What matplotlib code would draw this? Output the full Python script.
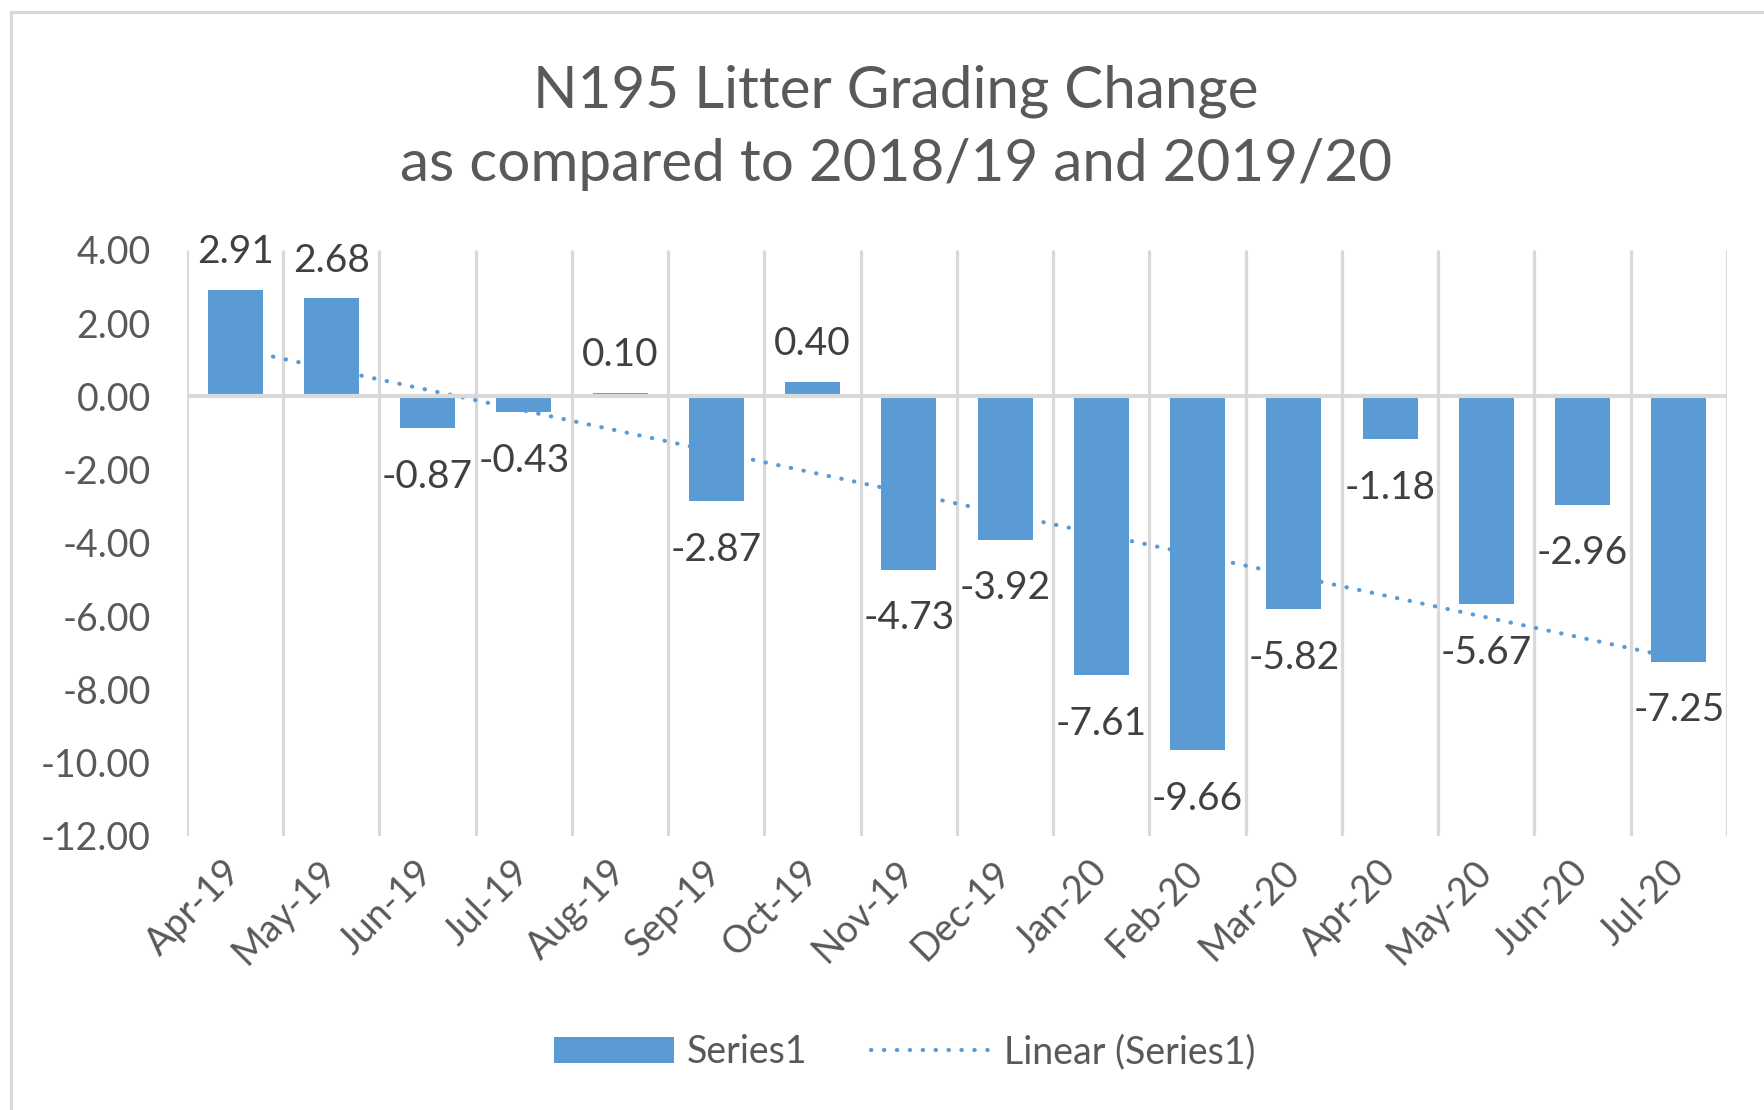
import numpy as np
import matplotlib.pyplot as plt
from matplotlib.lines import Line2D

months = ['Apr-19', 'May-19', 'Jun-19', 'Jul-19', 'Aug-19', 'Sep-19', 'Oct-19', 'Nov-19',
          'Dec-19', 'Jan-20', 'Feb-20', 'Mar-20', 'Apr-20', 'May-20', 'Jun-20', 'Jul-20']
change = [2.91, 2.68, -0.87, -0.43, 0.10, -2.87, 0.40, -4.73,
          -3.92, -7.61, -9.66, -5.82, -1.18, -5.67, -2.96, -7.25]
yticks = [4, 2, 0, -2, -4, -6, -8, -10, -12]

plt.rcParams['font.family'] = ['Lato', 'DejaVu Sans']
blue = '#5b9bd5'
grey_txt = '#595959'
grid_c = '#d9d9d9'

fig = plt.figure(figsize=(17.64, 11.10), dpi=100)
ax = fig.add_axes([0.106, 0.247, 0.873, 0.528])

x = np.arange(1, len(months) + 1)
bars = ax.bar(x, change, width=0.57, color=blue, zorder=3, label='Series1')

# linear trendline like Excel
slope, intercept = np.polyfit(x, change, 1)
trend, = ax.plot(x, slope * x + intercept, color=blue, lw=3.0,
                 linestyle=(0, (0.1, 3.0)), dash_capstyle='round', zorder=2,
                 label='Linear (Series1)')

# category gridlines + zero line
ax.vlines(np.arange(0.5, len(months) + 1), -12, 4, color=grid_c, lw=2.3, zorder=1)
ax.axhline(0, color=grid_c, lw=3.0, zorder=4)

for xi, v in zip(x, change):
    ax.annotate(f'{v:.2f}', (xi, v), xytext=(0, 27 if v >= 0 else -35),
                textcoords='offset points', ha='center', va='center',
                fontsize=28, color='#404040')

ax.set_xlim(0.5, len(months) + 0.5)
ax.set_ylim(-12, 4)
ax.set_yticks(yticks, [f'{v:.2f}' for v in yticks])
ax.set_xticks(x, months, rotation=45, ha='right', va='center', rotation_mode='anchor')
ax.tick_params(axis='y', length=0, pad=26, labelsize=27, labelcolor=grey_txt)
ax.tick_params(axis='x', length=0, pad=22, labelsize=27, labelcolor=grey_txt)
for s in ax.spines.values():
    s.set_visible(False)

fig.text(0.508, 0.918, 'N195 Litter Grading Change', ha='center', va='center',
         fontsize=42, color=grey_txt)
fig.text(0.508, 0.852, 'as compared to 2018/19 and 2019/20', ha='center', va='center',
         fontsize=42, color=grey_txt)

fig.legend(handles=[bars, trend], loc='center', bbox_to_anchor=(0.513, 0.052), ncol=2,
           frameon=False, fontsize=27, handlelength=3.2, handletextpad=0.35,
           columnspacing=1.7, labelcolor=grey_txt)

# chart area border (left and top visible)
fig.add_artist(Line2D([0.0065, 0.0065], [0, 0.989], transform=fig.transFigure,
                      color=grid_c, lw=2.2))
fig.add_artist(Line2D([0.0065, 1], [0.989, 0.989], transform=fig.transFigure,
                      color=grid_c, lw=2.2))

fig.savefig('out.png', dpi=100)
